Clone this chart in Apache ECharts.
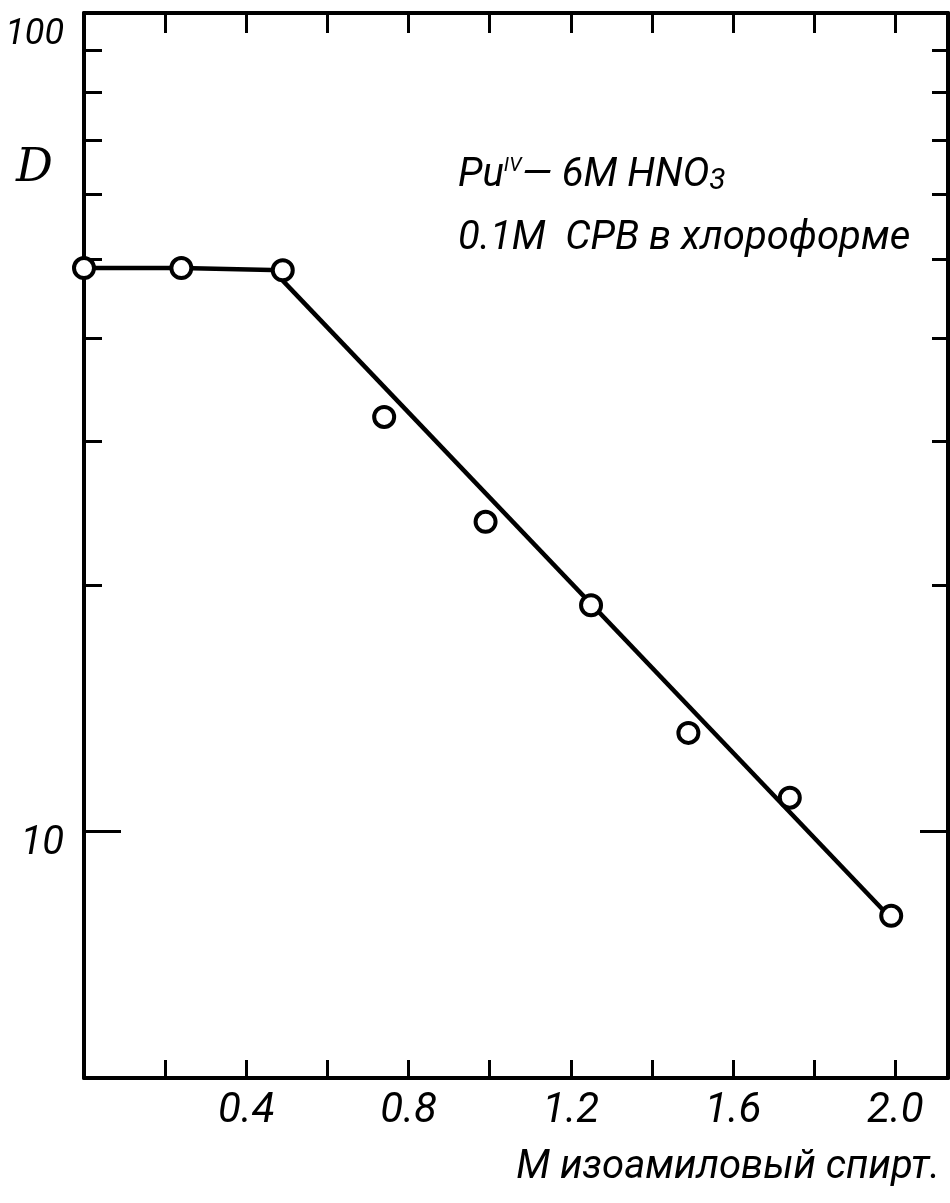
<!DOCTYPE html>
<html><head><meta charset="utf-8">
<script src="https://cdn.jsdelivr.net/npm/echarts@6/dist/echarts.min.js"></script>
<style>html,body{margin:0;padding:0;background:#fff}#c{width:950px;height:1203px}</style>
</head><body><div id="c"></div>
<script>
// ---- data ----
const xValues = [0, 0.24, 0.49, 0.74, 0.99, 1.25, 1.49, 1.74, 1.99];   // M isoamyl alcohol
const dValues = [48.8, 48.8, 48.5, 32.1, 23.9, 18.9, 13.2, 11.0, 7.89]; // D
const plateauCount = 3;                 // first points joined by the flat segment
const fitX = [0.49, 1.99];              // drawn straight line (log scale)
const fitD = [47.1, 7.83];
const xTickValues = [0.2, 0.4, 0.6, 0.8, 1.0, 1.2, 1.4, 1.6, 1.8, 2.0];
const xTickLabels = [0.4, 0.8, 1.2, 1.6, 2.0];
const yMinorTicks = [20, 30, 40, 50, 60, 70, 80, 90];
const yMajorTicks = [10];
const yTickLabels = [10, 100];
const xName = 'M изоамиловый спирт.';
const yName = 'D';

const HAND = 'Roboto, "DejaVu Sans", sans-serif';
const BLACK = '#000';

const chart = echarts.init(document.getElementById('c'), null, {renderer: 'canvas'});

function xAxisCfg(pos, tickLen, showLabel) {
  return {
    type: 'value', position: pos, min: 0, max: 2.13,
    axisLine: {show: true, onZero: false, lineStyle: {color: BLACK, width: 4}},
    axisTick: {show: true, inside: true, length: tickLen, customValues: xTickValues,
               lineStyle: {color: BLACK, width: 3}},
    axisLabel: showLabel ? {show: true, customValues: xTickLabels, margin: 12,
               formatter: v => Number(v).toFixed(1), color: BLACK, fontSize: 42,
               fontFamily: HAND, fontStyle: 'italic'} : {show: false},
    splitLine: {show: false}
  };
}
function yAxisCfg(pos, ticks, tickLen, showLine, showLabel) {
  return {
    type: 'log', logBase: 10, min: 5, max: 100, position: pos,
    axisLine: {show: showLine, onZero: false, lineStyle: {color: BLACK, width: 4}},
    axisTick: {show: true, inside: true, length: tickLen, customValues: ticks,
               lineStyle: {color: BLACK, width: 3}},
    axisLabel: showLabel ? {
      show: true, customValues: yTickLabels, margin: 20, color: BLACK,
      fontSize: 36, fontFamily: HAND, fontStyle: 'italic',
      formatter: v => Math.round(v) === 100 ? '{h|100}' : '{t|' + Math.round(v) + '}',
      rich: {
        h: {padding: [44, 0, 0, 0], fontSize: 36, fontFamily: HAND, fontStyle: 'italic', color: BLACK},
        t: {padding: [24, 0, 0, 0], fontSize: 40, fontFamily: HAND, fontStyle: 'italic', color: BLACK}
      }
    } : {show: false},
    splitLine: {show: false},
    minorTick: {show: false}
  };
}

const points = xValues.map((x, i) => [x, dValues[i]]);
const plateau = points.slice(0, plateauCount);
const fit = fitX.map((x, i) => [x, fitD[i]]);

chart.setOption({
  animation: false,
  backgroundColor: '#fff',
  grid: {left: 84, right: 2, top: 13, bottom: 125, containLabel: false, outerBoundsMode: 'none'},
  xAxis: [xAxisCfg('bottom', 18, true), xAxisCfg('top', 20, false)],
  yAxis: [
    yAxisCfg('left', yMinorTicks, 18, true, true),
    yAxisCfg('right', yMinorTicks, 16, true, false),
    yAxisCfg('left', yMajorTicks, 37, false, false),
    yAxisCfg('right', yMajorTicks, 28, false, false)
  ],
  series: [
    {type: 'line', data: plateau, symbol: 'none', lineStyle: {color: BLACK, width: 4.5}, z: 2},
    {type: 'line', data: fit, symbol: 'none', lineStyle: {color: BLACK, width: 4.5}, z: 2},
    {type: 'scatter', data: points, symbol: 'circle', symbolSize: 20, clip: false,
     itemStyle: {color: '#fff', borderColor: BLACK, borderWidth: 4, opacity: 1}, z: 5}
  ],
  graphic: [
    {type: 'text', left: 16, top: 146,
     style: {text: yName, fill: BLACK, font: 'italic 46px "DejaVu Serif"'}},
    {type: 'text', left: 458, top: 156,
     style: {
       text: '{n|Pu}{s|IV}{n|— 6M HNO}{b|3}',
       rich: {
         n: {fontSize: 40, fontFamily: HAND, fontStyle: 'italic', fill: BLACK},
         s: {fontSize: 20, fontFamily: HAND, fontStyle: 'italic', fill: BLACK, verticalAlign: 'top'},
         b: {fontSize: 30, fontFamily: HAND, fontStyle: 'italic', fill: BLACK, verticalAlign: 'bottom'}
       }
     }},
    {type: 'text', left: 458, top: 219,
     style: {text: '0.1M  CPB в хлороформе', fill: BLACK, font: 'italic 40px Roboto'}},
    {type: 'text', right: 10, top: 1148,
     style: {text: xName, fill: BLACK, font: 'italic 40px Roboto'}}
  ]
});
</script>
</body></html>
